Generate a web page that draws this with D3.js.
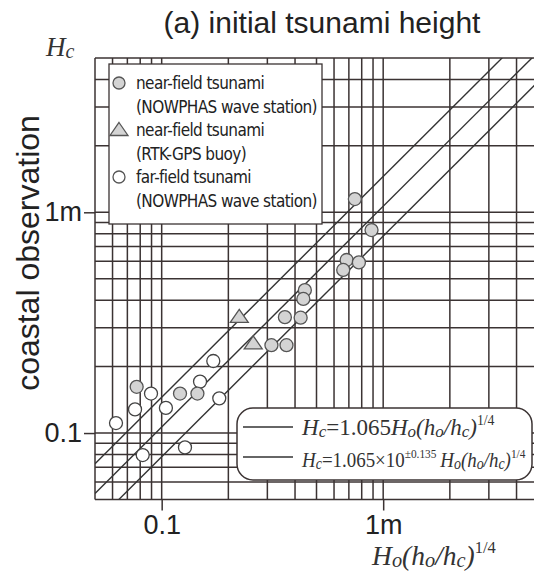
<!DOCTYPE html>
<html>
<head>
<meta charset="utf-8">
<script src="https://cdn.jsdelivr.net/npm/d3@7"></script>
<style>
  body { margin: 0; background: #fff; }
  svg { display: block; }
</style>
</head>
<body>
<script>
// near-field tsunami, NOWPHAS wave station (gray circles)
var nearX = [0.745, 0.886, 0.684, 0.777, 0.660, 0.443, 0.436, 0.360, 0.424, 0.313, 0.366, 0.0771, 0.121, 0.145];
var nearY = [1.148, 0.831, 0.608, 0.593, 0.548, 0.444, 0.405, 0.335, 0.333, 0.250, 0.250, 0.162, 0.151, 0.151];
// near-field tsunami, RTK-GPS buoy (gray triangles)
var gpsX = [0.224, 0.259];
var gpsY = [0.336, 0.255];
// far-field tsunami, NOWPHAS wave station (open circles)
var farX = [0.171, 0.149, 0.0895, 0.0758, 0.1045, 0.0622, 0.182, 0.0821, 0.1274];
var farY = [0.212, 0.171, 0.151, 0.128, 0.130, 0.111, 0.1436, 0.0795, 0.0861];

var gridValues = [0.05, 0.06, 0.07, 0.08, 0.09, 0.1, 0.2, 0.3, 0.4, 0.5, 0.6, 0.7, 0.8, 0.9, 1, 2, 3, 4, 5];
var tickValues = [0.1, 1];
var tickLabels = ["0.1", "1m"];
var fitCoef = 1.065;
var fitSpread = 0.135;

var legendRows = [
  {kind: "near", lines: ["near-field tsunami", "(NOWPHAS wave station)"]},
  {kind: "gps", lines: ["near-field tsunami", "(RTK-GPS buoy)"]},
  {kind: "far", lines: ["far-field tsunami", "(NOWPHAS wave station)"]}
];

var width = 534, height = 571;
var ink = "#3b3333";
var grayFill = "#d4d4d4";
var sans = "'Liberation Sans', Arial, sans-serif";
var narrow = "'Liberation Sans Narrow', 'DejaVu Sans Condensed', sans-serif";
var serif = "'Liberation Serif', 'Times New Roman', serif";

var x = d3.scaleLog().domain([0.05, 5]).range([95, 538]);
var y = d3.scaleLog().domain([0.05, 5]).range([499.5, 58]);

var svg = d3.select("body").
  append("svg").
  attr("width", width).
  attr("height", height);

svg.append("clipPath").attr("id", "plot").
  append("rect").
  attr("x", x(0.05)).attr("y", y(5)).
  attr("width", x(5) - x(0.05)).attr("height", y(0.05) - y(5));

// grid
var grid = svg.append("g").attr("stroke", ink).attr("stroke-width", 1.5);
grid.selectAll(".vg").data(gridValues).enter().append("line").
  attr("x1", function(d) { return x(d); }).attr("x2", function(d) { return x(d); }).
  attr("y1", y(0.05)).attr("y2", y(5));
grid.selectAll(".hg").data(gridValues).enter().append("line").
  attr("y1", function(d) { return y(d); }).attr("y2", function(d) { return y(d); }).
  attr("x1", x(0.05)).attr("x2", x(5));

// labelled ticks
var xAxis = svg.append("g").
  attr("transform", "translate(0," + y(0.05) + ")").
  call(d3.axisBottom(x).tickValues(tickValues).tickSize(11).tickPadding(4).
    tickFormat(function(d, i) { return tickLabels[i]; }));
var yAxis = svg.append("g").
  attr("transform", "translate(" + x(0.05) + ",0)").
  call(d3.axisLeft(y).tickValues(tickValues).tickSize(11).tickPadding(2).
    tickFormat(function(d, i) { return tickLabels[i]; }));
[xAxis, yAxis].forEach(function(a) {
  a.select(".domain").remove();
  a.selectAll(".tick line").attr("stroke", ink).attr("stroke-width", 1.5);
  a.selectAll(".tick text").attr("fill", "#222").
    style("font-family", sans).style("font-size", "27px");
});

// fit lines
var fits = [fitCoef, fitCoef * Math.pow(10, fitSpread), fitCoef * Math.pow(10, -fitSpread)];
var lines = svg.append("g").attr("clip-path", "url(#plot)");
lines.selectAll("line").data(fits).enter().append("line").
  attr("x1", x(0.05)).attr("x2", x(5)).
  attr("y1", function(k) { return y(k * 0.05); }).
  attr("y2", function(k) { return y(k * 5); }).
  attr("stroke", "#333").attr("stroke-width", 1.4);

// markers
var marks = svg.append("g").attr("clip-path", "url(#plot)");
function tri(cx, cy) {
  return "M" + cx + "," + (cy - 7.5) + "L" + (cx + 9) + "," + (cy + 5.5) + "L" + (cx - 9) + "," + (cy + 5.5) + "Z";
}
marks.selectAll(".far").data(farX).enter().append("circle").
  attr("cx", function(d) { return x(d); }).
  attr("cy", function(d, i) { return y(farY[i]); }).
  attr("r", 6.5).attr("fill", "#fff").attr("stroke", "#444").attr("stroke-width", 1.3);
marks.selectAll(".near").data(nearX).enter().append("circle").
  attr("cx", function(d) { return x(d); }).
  attr("cy", function(d, i) { return y(nearY[i]); }).
  attr("r", 6.5).attr("fill", grayFill).attr("stroke", "#555").attr("stroke-width", 1.3);
marks.selectAll(".gps").data(gpsX).enter().append("path").
  attr("d", function(d, i) { return tri(x(d), y(gpsY[i])); }).
  attr("fill", grayFill).attr("stroke", "#555").attr("stroke-width", 1.3);

// legend of symbols
var leg = svg.append("g").attr("transform", "translate(109,64)");
leg.append("rect").attr("width", 213).attr("height", 160).
  attr("fill", "#fff").attr("stroke", ink).attr("stroke-width", 1.3);
legendRows.forEach(function(r, i) {
  var cy = 19 + i * 47;
  if (r.kind === "gps") {
    leg.append("path").attr("d", tri(10, cy)).
      attr("fill", grayFill).attr("stroke", "#555").attr("stroke-width", 1.3);
  } else {
    leg.append("circle").attr("cx", 10).attr("cy", cy).attr("r", 6).
      attr("fill", r.kind === "near" ? grayFill : "#fff").attr("stroke", "#555").attr("stroke-width", 1.3);
  }
  r.lines.forEach(function(t, j) {
    leg.append("text").attr("x", 27).attr("y", cy + 6 + j * 24).
      attr("fill", "#222").style("font-family", narrow).style("font-size", "17px").
      style("letter-spacing", "-0.6px").text(t);
  });
});

// legend of fit lines
var leg2 = svg.append("g").attr("transform", "translate(237,408)");
leg2.append("rect").attr("width", 295).attr("height", 72).attr("rx", 16).
  attr("fill", "#fff").attr("stroke", ink).attr("stroke-width", 1.5);
[19, 49].forEach(function(ly) {
  leg2.append("line").attr("x1", 6).attr("x2", 56).attr("y1", ly).attr("y2", ly).
    attr("stroke", "#333").attr("stroke-width", 1.4);
});

function formula(g, parts, size) {
  var t = g.append("text").attr("fill", "#333").style("font-family", serif).style("font-size", size + "px");
  var shift = 0;
  parts.forEach(function(p) {
    var s = t.append("tspan").text(p[0]);
    var target = 0, fs = size;
    if (p[1] === "sub") { target = 1.5; fs = size * 0.74; }
    if (p[1] === "sup") { target = -size * 0.42; fs = size * 0.6; }
    s.attr("dy", target - shift).style("font-size", fs + "px").
      style("font-style", p[2] === "up" ? "normal" : "italic");
    shift = target;
  });
  return t;
}
formula(leg2.append("g").attr("transform", "translate(65,27)"), [
  ["H"], ["c", "sub"], ["=1.065", "", "up"], ["H"], ["o", "sub"], ["("], ["h"], ["o", "sub"],
  ["/"], ["h"], ["c", "sub"], [")"], ["1/4", "sup", "up"]
], 23);
formula(leg2.append("g").attr("transform", "translate(65,59) scale(0.88,1)"), [
  ["H"], ["c", "sub"], ["=1.065\u00d710", "", "up"], ["\u00b10.135", "sup", "up"], ["\u2009"], ["H"], ["o", "sub"],
  ["("], ["h"], ["o", "sub"], ["/"], ["h"], ["c", "sub"], [")"], ["1/4", "sup", "up"]
], 21.5);

// titles
svg.append("text").attr("x", 322).attr("y", 33).attr("text-anchor", "middle").
  attr("fill", "#222").style("font-family", sans).style("font-size", "30px").
  text("(a) initial tsunami height");
svg.append("text").attr("transform", "translate(39,253) rotate(-90)").attr("text-anchor", "middle").
  attr("fill", "#222").style("font-family", sans).style("font-size", "32px").
  text("coastal observation");
formula(svg.append("g").attr("transform", "translate(46,56)"), [["H"], ["c", "sub"]], 27);
formula(svg.append("g").attr("transform", "translate(372,565)"), [
  ["H"], ["o", "sub"], ["("], ["h"], ["o", "sub"], ["/"], ["h"], ["c", "sub"], [")"], ["1/4", "sup", "up"]
], 27.5);
</script>
</body>
</html>
